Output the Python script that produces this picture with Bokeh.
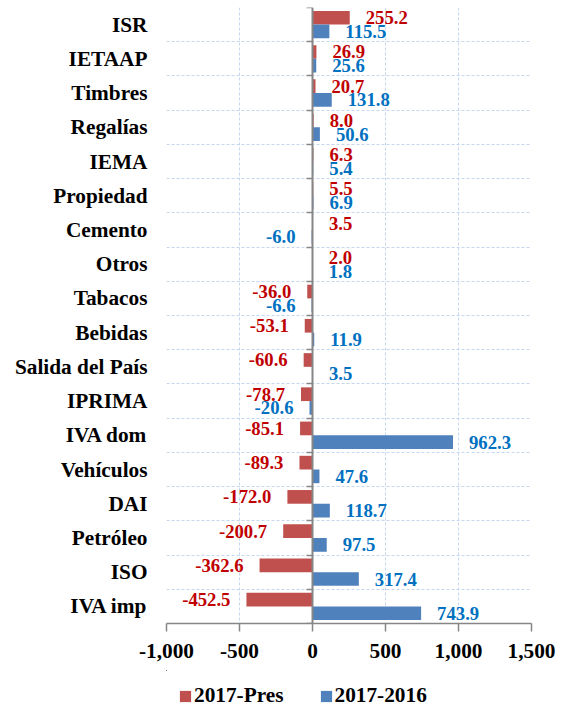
from bokeh.plotting import figure
from bokeh.layouts import column
from bokeh.models import (ColumnDataSource, FixedTicker, LinearAxis, Legend, LegendItem,
                          NumeralTickFormatter, Range1d)
from bokeh.core.properties import value
from bokeh.embed import file_html
from bokeh.resources import INLINE

categories = ["ISR", "IETAAP", "Timbres", "Regalías", "IEMA", "Propiedad", "Cemento",
              "Otros", "Tabacos", "Bebidas", "Salida del País", "IPRIMA", "IVA dom",
              "Vehículos", "DAI", "Petróleo", "ISO", "IVA imp"]
pres = [255.2, 26.9, 20.7, 8.0, 6.3, 5.5, 3.5, 2.0, -36.0, -53.1, -60.6, -78.7, -85.1,
        -89.3, -172.0, -200.7, -362.6, -452.5]
yoy = [115.5, 25.6, 131.8, 50.6, 5.4, 6.9, -6.0, 1.8, -6.6, 11.9, 3.5, -20.6, 962.3,
       47.6, 118.7, 97.5, 317.4, 743.9]
x_ticks = [-1000, -500, 0, 500, 1000, 1500]
series_names = ["2017-Pres", "2017-2016"]

FONT = "Liberation Serif"
RED_BAR, BLUE_BAR = "#C0504D", "#4F81BD"
RED_TXT, BLUE_TXT = "#C00000", "#0070C0"
GRID = "#C6D6EE"
AXIS = "#868686"

n = len(categories)
idx = list(range(n))

p = figure(width=564, height=670,
           x_range=Range1d(x_ticks[0], x_ticks[-1]), y_range=Range1d(n - 0.5, -0.5),
           output_backend="svg", toolbar_location=None,
           min_border_top=7, min_border_left=166, min_border_right=33, min_border_bottom=47)
p.outline_line_color = None

bars = ColumnDataSource(dict(y_red=[i - 0.2 for i in idx], y_blue=[i + 0.2 for i in idx],
                             pres=pres, yoy=yoy))
r1 = p.hbar(y="y_red", right="pres", left=0, height=0.4, source=bars,
            fill_color=RED_BAR, line_color=None)
r2 = p.hbar(y="y_blue", right="yoy", left=0, height=0.4, source=bars,
            fill_color=BLUE_BAR, line_color=None)

vals = pres + yoy
labels = ColumnDataSource(dict(
    x=vals,
    y=[i - 0.2 for i in idx] + [i + 0.2 for i in idx],
    text=[f"{v:.1f}" for v in vals],
    align=["left" if v >= 0 else "right" for v in vals],
    xoff=[16 if v >= 0 else -16 for v in vals],
    color=[RED_TXT] * n + [BLUE_TXT] * n,
))
p.text(x="x", y="y", text="text", source=labels, text_align="align", x_offset="xoff",
       text_color="color", text_font=value(FONT), text_font_style="bold",
       text_font_size=value("18.7px"), text_baseline="middle")

# grids
p.xgrid.ticker = FixedTicker(ticks=x_ticks)
p.xgrid.grid_line_color = GRID
p.xgrid.grid_line_dash = "3 2"
p.ygrid.ticker = FixedTicker(ticks=[i - 0.5 for i in idx])
p.ygrid.grid_line_color = GRID
p.ygrid.grid_line_dash = "3 2"

# x axis
xa = p.xaxis[0]
xa.ticker = FixedTicker(ticks=x_ticks)
xa.formatter = NumeralTickFormatter(format="0,0")
xa.axis_line_color = AXIS
xa.axis_line_width = 1.5
xa.major_tick_line_color = AXIS
xa.major_tick_line_width = 1.5
xa.major_tick_out = 8
xa.major_tick_in = 0
xa.minor_tick_line_color = None
xa.major_label_standoff = 12
xa.major_label_text_font = FONT
xa.major_label_text_font_style = "bold"
xa.major_label_text_font_size = "21.3px"
xa.major_label_text_color = "black"

# y axis (category labels)
ya = p.yaxis[0]
ya.ticker = FixedTicker(ticks=idx)
ya.major_label_overrides = {i: c for i, c in zip(idx, categories)}
ya.axis_line_color = None
ya.major_tick_line_color = None
ya.major_tick_out = 0
ya.major_tick_in = 0
ya.minor_tick_line_color = None
ya.minor_tick_out = 0
ya.major_label_standoff = 19
ya.major_label_text_font = FONT
ya.major_label_text_font_style = "bold"
ya.major_label_text_font_size = "21.3px"
ya.major_label_text_color = "black"

# category axis line at zero
za = LinearAxis(fixed_location=0, ticker=FixedTicker(ticks=[i - 0.5 for i in idx] + [n - 0.5]),
                major_label_overrides={i - 0.5: "" for i in idx + [n]},
                major_label_text_font_size="0px", major_label_standoff=0,
                axis_line_color=AXIS, axis_line_width=2,
                major_tick_line_color=AXIS, major_tick_line_width=1.5,
                major_tick_out=6, major_tick_in=0, minor_tick_line_color=None)
p.add_layout(za, "left")

# legend strip below the chart (its bars fall entirely outside its own view)
lf = figure(width=564, height=38, x_range=Range1d(5000, 5001), y_range=Range1d(-100, -99),
            output_backend="svg", toolbar_location=None, min_border=0)
lf.axis.visible = False
lf.grid.visible = False
lf.outline_line_color = None
g1 = lf.hbar(y="y_red", right="pres", left=0, height=0.4, source=bars,
             fill_color=RED_BAR, line_color=None)
g2 = lf.hbar(y="y_blue", right="yoy", left=0, height=0.4, source=bars,
             fill_color=BLUE_BAR, line_color=None)
legend = Legend(items=[LegendItem(label=series_names[0], renderers=[g1]),
                       LegendItem(label=series_names[1], renderers=[g2])],
                orientation="horizontal", location=(12, 0),
                glyph_width=14, glyph_height=14, label_standoff=2, spacing=35,
                padding=0, margin=0, border_line_color=None, background_fill_alpha=0,
                label_text_font=FONT, label_text_font_style="bold",
                label_text_font_size="21.3px", label_text_color="black")
lf.add_layout(legend, "center")

open("out.html", "w").write(file_html(column(p, lf), INLINE))
